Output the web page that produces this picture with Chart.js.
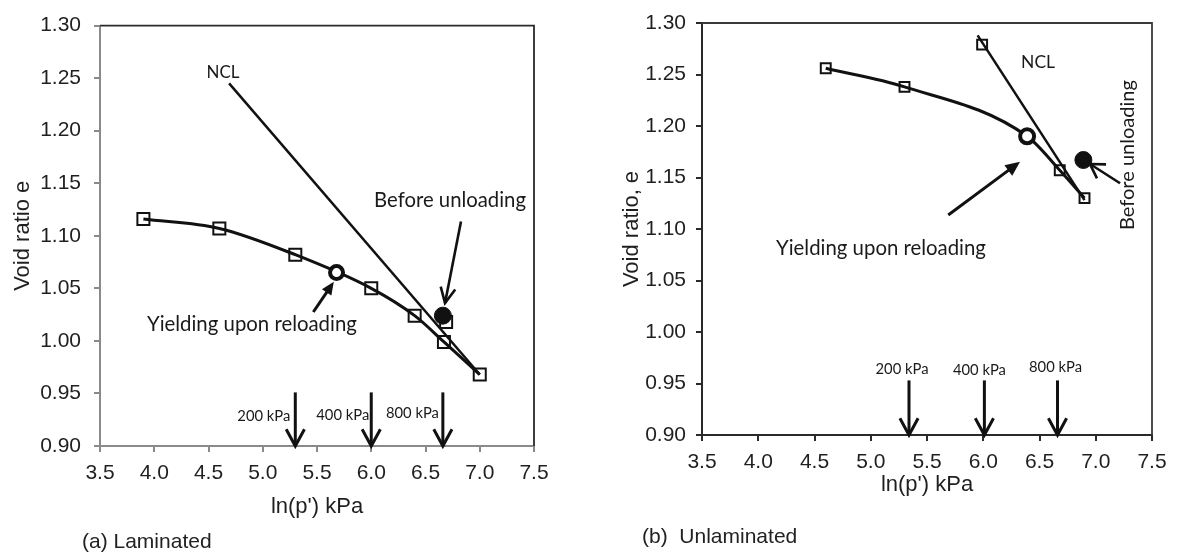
<!DOCTYPE html>
<html><head><meta charset="utf-8">
<script src="https://cdn.jsdelivr.net/npm/chart.js@4.4.0/dist/chart.umd.min.js"></script>
<style>
html,body{margin:0;padding:0;background:#fff;}
#wrap{position:relative;width:1177px;height:559px;overflow:hidden;background:#fff;}
.box{position:absolute;top:0;height:559px;}
#boxA{left:0;width:590px;}
#boxB{left:590px;width:587px;}
canvas{display:block;}
</style></head><body>
<div id="wrap">
<div class="box" id="boxA"><canvas id="cA" width="590" height="559"></canvas></div>
<div class="box" id="boxB"><canvas id="cB" width="587" height="559"></canvas></div>
</div>
<script>
// ---------- data ----------
const xTickValues = [3.5, 4.0, 4.5, 5.0, 5.5, 6.0, 6.5, 7.0, 7.5];
const yTickValues = [0.90, 0.95, 1.00, 1.05, 1.10, 1.15, 1.20, 1.25, 1.30];

// (a) Laminated
const lamCurveLnP  = [3.9, 4.6, 5.3, 6.0, 6.4, 6.67, 7.0];
const lamCurveE    = [1.116, 1.107, 1.082, 1.050, 1.024, 0.999, 0.968];
const lamSquareLnP = [3.9, 4.6, 5.3, 6.0, 6.4, 6.69, 6.67, 7.0];
const lamSquareE   = [1.116, 1.107, 1.082, 1.050, 1.024, 1.018, 0.999, 0.968];
const lamNclLnP    = [4.69, 7.0];
const lamNclE      = [1.245, 0.968];
const lamYieldLnP  = [5.68];
const lamYieldE    = [1.065];
const lamBeforeLnP = [6.66];
const lamBeforeE   = [1.024];
const lamStressLabels = ['200 kPa', '400 kPa', '800 kPa'];
const lamStressLnP    = [5.30, 6.00, 6.66];

// (b) Unlaminated
const unlCurveLnP  = [4.6, 5.3, 6.39, 6.68, 6.9];
const unlCurveE    = [1.256, 1.238, 1.190, 1.157, 1.130];
const unlSquareLnP = [4.6, 5.3, 5.99, 6.68, 6.9];
const unlSquareE   = [1.256, 1.238, 1.279, 1.157, 1.130];
const unlNclLnP    = [5.95, 6.9];
const unlNclE      = [1.288, 1.128];
const unlYieldLnP  = [6.39];
const unlYieldE    = [1.190];
const unlBeforeLnP = [6.89];
const unlBeforeE   = [1.167];
const unlStressLabels = ['200 kPa', '400 kPa', '800 kPa'];
const unlStressLnP    = [5.34, 6.01, 6.66];

// ---------- helpers ----------
const zip = (xs, ys) => xs.map((x, i) => ({x: x, y: ys[i]}));
const INK = '#111';
const ANN_FONT = 'Lato, "Open Sans", sans-serif';
const AX_FONT = '"Liberation Sans", Arial, sans-serif';

function fitFont(ctx, text, target, family) {
  ctx.font = '100px ' + family;
  const w = ctx.measureText(text).width;
  return 100 * target / w;
}

function drawArrow(ctx, x1, y1, x2, y2, head, lw, len, ang) {
  ctx.save();
  ctx.strokeStyle = INK; ctx.fillStyle = INK; ctx.lineWidth = lw; ctx.lineCap = 'butt';
  const a = Math.atan2(y2 - y1, x2 - x1);
  if (head === 'filled') {
    const bx = x2 - len * 0.8 * Math.cos(a), by = y2 - len * 0.8 * Math.sin(a);
    ctx.beginPath(); ctx.moveTo(x1, y1); ctx.lineTo(bx, by); ctx.stroke();
    ctx.beginPath();
    ctx.moveTo(x2, y2);
    ctx.lineTo(x2 - len * Math.cos(a - ang), y2 - len * Math.sin(a - ang));
    ctx.lineTo(x2 - len * Math.cos(a + ang), y2 - len * Math.sin(a + ang));
    ctx.closePath(); ctx.fill();
  } else {
    ctx.beginPath(); ctx.moveTo(x1, y1); ctx.lineTo(x2, y2); ctx.stroke();
    ctx.lineJoin = 'miter';
    ctx.beginPath();
    ctx.moveTo(x2 - len * Math.cos(a - ang), y2 - len * Math.sin(a - ang));
    ctx.lineTo(x2, y2);
    ctx.lineTo(x2 - len * Math.cos(a + ang), y2 - len * Math.sin(a + ang));
    ctx.stroke();
  }
  ctx.restore();
}

const annotPlugin = {
  id: 'annot',
  beforeDatasetsDraw(chart, args, opts) {
    const {ctx, chartArea: ca} = chart;
    ctx.save();
    ctx.strokeStyle = opts.frameColor; ctx.lineWidth = 1.8;
    ctx.beginPath();
    ctx.moveTo(ca.left, ca.top); ctx.lineTo(ca.right, ca.top); ctx.lineTo(ca.right, ca.bottom);
    ctx.stroke();
    ctx.restore();
  },
  afterDraw(chart, args, opts) {
    const {ctx} = chart;
    const sx = chart.scales.x, sy = chart.scales.y;
    const P = (x, y) => [sx.getPixelForValue(x), sy.getPixelForValue(y)];
    ctx.save();
    ctx.fillStyle = '#1a1a1a';
    opts.texts.forEach(t => {
      const size = fitFont(ctx, t.text, t.w, ANN_FONT);
      ctx.font = size.toFixed(2) + 'px ' + ANN_FONT;
      const [px, py] = P(t.x, t.y);
      ctx.save();
      ctx.translate(px, py);
      if (t.rot) ctx.rotate(t.rot);
      ctx.textAlign = 'center'; ctx.textBaseline = 'middle';
      ctx.fillText(t.text, 0, 0);
      ctx.restore();
    });
    opts.arrows.forEach(a => {
      const [x1, y1] = P(a.from[0], a.from[1]);
      const [x2, y2] = P(a.to[0], a.to[1]);
      drawArrow(ctx, x1, y1, x2, y2, a.head, a.lw, a.len, a.ang);
    });
    const s = opts.stress;
    s.lnp.forEach((v, i) => {
      const [x, yTop] = P(v, s.top);
      const yTip = sy.getPixelForValue(0.90);
      drawArrow(ctx, x, yTop, x, yTip, 'open', 3, 19, 0.50);
      const size = fitFont(ctx, s.labels[i], s.labelW, ANN_FONT);
      ctx.font = size.toFixed(2) + 'px ' + ANN_FONT;
      ctx.textBaseline = 'middle';
      ctx.textAlign = s.align;
      const ly = sy.getPixelForValue(s.labelY[i]);
      ctx.fillText(s.labels[i], x + s.labelDx[i], ly);
    });
    const c = opts.caption;
    ctx.font = c.size + 'px ' + AX_FONT;
    ctx.textAlign = 'left'; ctx.textBaseline = 'middle';
    ctx.fillStyle = '#222';
    ctx.fillText(c.text, c.x, c.y);
    ctx.restore();
  }
};

function makeChart(canvasId, cfg) {
  const datasets = [
    {label: 'before', data: cfg.before, pointStyle: 'circle', pointRadius: cfg.fillR,
     backgroundColor: INK, borderColor: INK, borderWidth: 1, showLine: false, order: 0},
    {label: 'yield', data: cfg.yieldPt, pointStyle: 'circle', pointRadius: cfg.openR,
     backgroundColor: '#fff', borderColor: INK, borderWidth: cfg.openW, showLine: false, order: 1},
    {label: 'squares', data: cfg.squares, pointStyle: 'rect', pointRadius: cfg.sqR,
     backgroundColor: 'rgba(255,255,255,0)', borderColor: INK, borderWidth: cfg.sqW, showLine: false, order: 2},
    {label: 'curve', data: cfg.curve, showLine: true, pointRadius: 0, borderColor: INK,
     borderWidth: 3, cubicInterpolationMode: 'monotone', fill: false, order: 3},
    {label: 'ncl', data: cfg.ncl, showLine: true, pointRadius: 0, borderColor: INK,
     borderWidth: 2.5, fill: false, order: 4}
  ];
  return new Chart(document.getElementById(canvasId), {
    type: 'scatter',
    data: {datasets},
    options: {
      responsive: false, animation: false, devicePixelRatio: 1,
      layout: {padding: {left: 0, top: cfg.padTop, right: cfg.padRight, bottom: 0}},
      plugins: {legend: {display: false}, tooltip: {enabled: false}, annot: cfg.annot},
      scales: {
        x: {
          type: 'linear', min: 3.5, max: 7.5,
          afterBuildTicks: s => { s.ticks = xTickValues.map(v => ({value: v})); },
          afterFit: s => { s.height = cfg.xAxisH; },
          ticks: {callback: v => Number(v).toFixed(1), font: {family: AX_FONT, size: cfg.tickSize},
                  color: '#1f1f1f', padding: 9, maxRotation: 0, autoSkip: false},
          grid: {drawOnChartArea: false, tickLength: 6, color: cfg.axisColor, lineWidth: 2},
          border: {color: cfg.axisColor, width: 2},
          title: {display: true, text: "ln(p') kPa", font: {family: AX_FONT, size: 22},
                  color: '#1f1f1f', padding: {top: 0, bottom: cfg.xTitlePad}}
        },
        y: {
          type: 'linear', min: 0.9, max: 1.3,
          afterBuildTicks: s => { s.ticks = yTickValues.map(v => ({value: v})); },
          afterFit: s => { s.width = cfg.yAxisW; },
          ticks: {callback: v => Number(v).toFixed(2), font: {family: AX_FONT, size: cfg.tickSize},
                  color: '#1f1f1f', padding: cfg.yTickPad, autoSkip: false},
          grid: {drawOnChartArea: false, tickLength: 6, color: cfg.axisColor, lineWidth: 2},
          border: {color: cfg.axisColor, width: 2},
          title: {display: true, text: cfg.yTitle, font: {family: AX_FONT, size: 22},
                  color: '#1f1f1f', padding: {top: cfg.yTitlePad, bottom: 0}}
        }
      }
    },
    plugins: [annotPlugin]
  });
}

makeChart('cA', {
  before: zip(lamBeforeLnP, lamBeforeE), yieldPt: zip(lamYieldLnP, lamYieldE),
  squares: zip(lamSquareLnP, lamSquareE), curve: zip(lamCurveLnP, lamCurveE), ncl: zip(lamNclLnP, lamNclE),
  fillR: 8.5, openR: 6.5, openW: 4, sqR: 8.5, sqW: 2,
  padTop: 19, padRight: 56, xAxisH: 113, yAxisW: 100, yTickPad: 13, xTitlePad: 39, yTitlePad: 10,
  axisColor: '#8a8a8a', yTitle: 'Void ratio e', tickSize: 21,
  annot: {
    frameColor: '#2a2a2a',
    texts: [
      {text: 'NCL', x: 4.634, y: 1.2556, w: 33},
      {text: 'Before unloading', x: 6.726, y: 1.1335, w: 152},
      {text: 'Yielding upon reloading', x: 4.90, y: 1.0152, w: 210}
    ],
    arrows: [
      {from: [6.827, 1.1135], to: [6.68, 1.036], head: 'open', lw: 2.6, len: 17, ang: 0.45},
      {from: [5.466, 1.0275], to: [5.655, 1.0562], head: 'filled', lw: 3, len: 14, ang: 0.42}
    ],
    stress: {lnp: lamStressLnP, labels: lamStressLabels, top: 0.951, labelY: [0.928, 0.9295, 0.931],
             labelW: 53, align: 'right', labelDx: [-5, -2, -4]},
    caption: {text: '(a) Laminated', x: 82, y: 542, size: 21}
  }
});

makeChart('cB', {
  before: zip(unlBeforeLnP, unlBeforeE), yieldPt: zip(unlYieldLnP, unlYieldE),
  squares: zip(unlSquareLnP, unlSquareE), curve: zip(unlCurveLnP, unlCurveE), ncl: zip(unlNclLnP, unlNclE),
  fillR: 8.5, openR: 7, openW: 4, sqR: 7, sqW: 2,
  padTop: 23, padRight: 25, xAxisH: 124, yAxisW: 112, yTickPad: 10, xTitlePad: 61, yTitlePad: 29,
  axisColor: '#2a2a2a', yTitle: 'Void ratio, e', tickSize: 21,
  annot: {
    frameColor: '#3a3a3a',
    texts: [
      {text: 'NCL', x: 6.487, y: 1.2621, w: 34},
      {text: 'Before unloading', x: 7.287, y: 1.1718, w: 150, rot: -Math.PI / 2},
      {text: 'Yielding upon reloading', x: 5.091, y: 1.0816, w: 210}
    ],
    arrows: [
      {from: [7.216, 1.1444], to: [6.949, 1.1631], head: 'open', lw: 2.6, len: 16, ang: 0.55},
      {from: [5.689, 1.1136], to: [6.327, 1.1653], head: 'filled', lw: 3, len: 16, ang: 0.42}
    ],
    stress: {lnp: unlStressLnP, labels: unlStressLabels, top: 0.953, labelY: [0.9638, 0.963, 0.9657],
             labelW: 53, align: 'center', labelDx: [-7, -5, -2]},
    caption: {text: '(b)  Unlaminated', x: 52, y: 537, size: 21}
  }
});
</script>
</body></html>
